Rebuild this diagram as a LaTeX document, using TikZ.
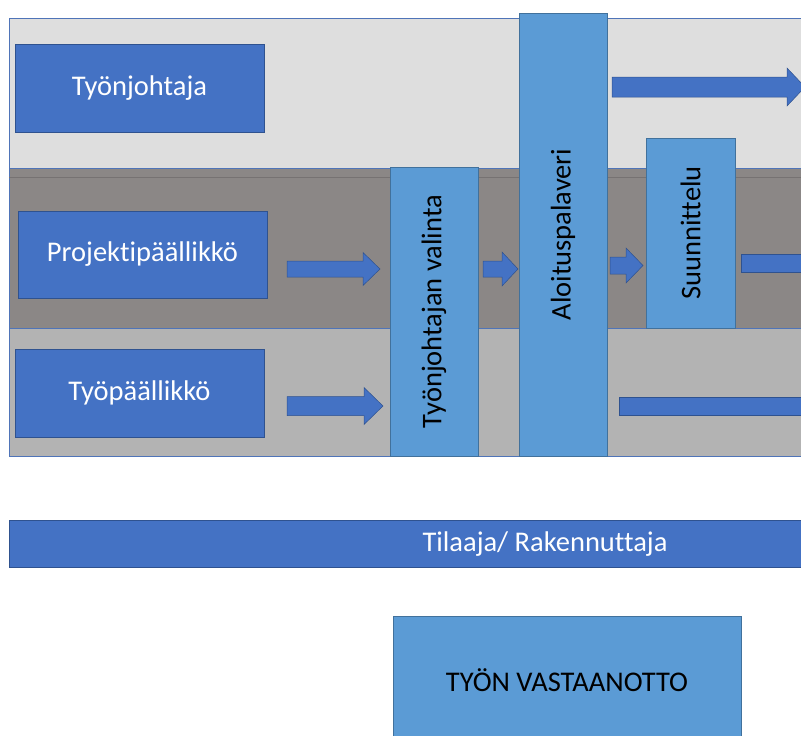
\documentclass[tikz,border=0pt]{standalone}
\usepackage{fontspec}
\setmainfont{Carlito}[Ligatures={NoCommon}]
\definecolor{laneA}{HTML}{DEDEDE}
\definecolor{laneB}{HTML}{8B8786}
\definecolor{laneC}{HTML}{B3B3B3}
\definecolor{laneEdge}{HTML}{4F74B8}
\definecolor{laneRule}{HTML}{767272}
\definecolor{roleBlue}{HTML}{4472C4}
\definecolor{roleEdge}{HTML}{2F528F}
\definecolor{stepBlue}{HTML}{5B9BD5}
\definecolor{stepEdge}{HTML}{41719C}
\newcommand\lbl{\fontsize{28.5}{32}\selectfont}
% block arrow: shaft start, head start, tip, centre y, shaft half-height, head half-height
\newcommand\blockarrow[6]{%
  \filldraw[blockarrow] (#1,#4-#5) -- (#2,#4-#5) -- (#2,#4-#6) -- (#3,#4)
    -- (#2,#4+#6) -- (#2,#4+#5) -- (#1,#4+#5) -- cycle;}
\begin{document}
\begin{tikzpicture}[x=1pt,y=-1pt,
  lane/.style={draw=laneEdge,line width=0.9pt},
  rolebox/.style={draw=roleEdge,fill=roleBlue,line width=0.8pt,text=white,
    font=\lbl,inner sep=0pt,anchor=center},
  stepbox/.style={draw=stepEdge,fill=stepBlue,line width=0.8pt,text=black,
    font=\lbl,inner sep=0pt,anchor=center},
  blockarrow/.style={fill=roleBlue,draw=roleEdge,line width=0.5pt}]
\useasboundingbox (0,0) rectangle (801,736);
\fill[white] (0,0) rectangle (801,736);
\clip (0,0) rectangle (801,736);

% swimlanes
\filldraw[lane,fill=laneA] (9,18) rectangle (820,168);
\filldraw[lane,fill=laneB] (9,168) rectangle (820,328);
\draw[laneRule,line width=1pt] (9,177) -- (820,177);
\filldraw[lane,fill=laneC] (9,328) rectangle (820,456);

% roles
\node[rolebox,minimum width=249pt,minimum height=88pt] (tj) at (139.5,88) {Työnjohtaja};
\node[rolebox,minimum width=249pt,minimum height=87pt] (pp) at (142.5,254.5) {Projektipäällikkö};
\node[rolebox,minimum width=249pt,minimum height=88pt] (tp) at (139.5,393) {Työpäällikkö};

% process steps (vertical labels)
\node[stepbox,rotate=90,minimum width=289pt,minimum height=88pt] (valinta) at (434,311.5) {Työnjohtajan valinta};
\node[stepbox,rotate=90,minimum width=443pt,minimum height=88pt] (aloitus) at (563,234.5) {Aloituspalaveri};
\node[stepbox,rotate=90,minimum width=190pt,minimum height=89pt] (suunn) at (690.5,233) {Suunnittelu};

% block arrows between lanes and steps
\blockarrow{287}{363}{380}{269}{8}{16.5}
\blockarrow{287}{364}{383}{406}{9.5}{18.5}
\blockarrow{483}{502}{518}{269}{8}{17}
\blockarrow{610}{626}{643}{265.5}{8.5}{17.5}
\blockarrow{612}{787}{805}{87}{10}{19}
\filldraw[blockarrow] (741,254) rectangle (830,272);
\filldraw[blockarrow] (619,397) rectangle (830,415);

% client bar
\filldraw[draw=roleEdge,fill=roleBlue,line width=0.8pt] (9,520) rectangle (830,567);
\node[text=white,font=\lbl,inner sep=0pt] (tilaaja) at (545,544) {Tilaaja/ Rakennuttaja};

% handover
\node[stepbox,minimum width=348pt,minimum height=128pt] (vastaanotto) at (567,680) {TYÖN VASTAANOTTO};
\end{tikzpicture}
\end{document}
